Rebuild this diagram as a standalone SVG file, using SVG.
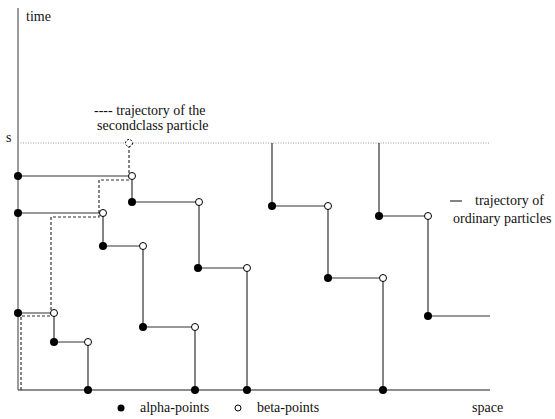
<svg xmlns="http://www.w3.org/2000/svg" width="555" height="419" viewBox="0 0 555 419">
<style>
.t{font-family:'Liberation Serif','Times New Roman','DejaVu Serif',serif;font-size:14px;fill:#111}
.ax{stroke:#666;stroke-width:1.3;fill:none}
.tr{stroke:#333;stroke-width:1.2;fill:none}
.sc{stroke:#333;stroke-width:1.2;fill:none;stroke-dasharray:3,2}
.dot{stroke:#999;stroke-width:1;stroke-dasharray:1,1.5;fill:none}
.a{fill:#000}
.b{fill:#fff;stroke:#000;stroke-width:1}
</style>
<g id="axes">
<line class="ax" x1="18" y1="8" x2="18" y2="390"/>
<line class="ax" x1="18" y1="390" x2="490" y2="390"/>
<line class="dot" x1="18" y1="143" x2="490" y2="143"/>
<text class="t" x="26" y="21">time</text>
<text class="t" x="6" y="142">s</text>
<text class="t" x="472" y="412">space</text>
</g>
<g id="connectors">
<path class="tr" d="M18,176 H132 V202 H199 V268 H247 V390"/>
<path class="tr" d="M18,213 H103 V246 H143 V327 H195 V390"/>
<path class="tr" d="M18,313 H54 V342 H88 V390"/>
<path class="tr" d="M272,143 V206 H328 V278 H383 V390"/>
<path class="tr" d="M379,143 V216 H428 V316 H490"/>
<path class="sc" d="M21,390 V316 H51 V217 H99 V180 H129 V146"/>
</g>
<g id="alpha-points">
<circle class="a" cx="18" cy="176" r="4"/>
<circle class="a" cx="18" cy="213" r="4"/>
<circle class="a" cx="18" cy="313" r="4"/>
<circle class="a" cx="132" cy="202" r="4"/>
<circle class="a" cx="103" cy="246" r="4"/>
<circle class="a" cx="143" cy="327" r="4"/>
<circle class="a" cx="54" cy="342" r="4"/>
<circle class="a" cx="88" cy="390" r="4"/>
<circle class="a" cx="195" cy="390" r="4"/>
<circle class="a" cx="247" cy="390" r="4"/>
<circle class="a" cx="383" cy="390" r="4"/>
<circle class="a" cx="198" cy="268" r="4"/>
<circle class="a" cx="272" cy="206" r="4"/>
<circle class="a" cx="328" cy="278" r="4"/>
<circle class="a" cx="379" cy="216" r="4"/>
<circle class="a" cx="428" cy="316" r="4"/>
</g>
<g id="beta-points">
<circle class="b" cx="132" cy="176" r="3.5"/>
<circle class="b" cx="103" cy="213" r="3.5"/>
<circle class="b" cx="54" cy="313" r="3.5"/>
<circle class="b" cx="143" cy="246" r="3.5"/>
<circle class="b" cx="88" cy="342" r="3.5"/>
<circle class="b" cx="195" cy="327" r="3.5"/>
<circle class="b" cx="199" cy="202" r="3.5"/>
<circle class="b" cx="247" cy="268" r="3.5"/>
<circle class="b" cx="328" cy="206" r="3.5"/>
<circle class="b" cx="383" cy="278" r="3.5"/>
<circle class="b" cx="428" cy="216" r="3.5"/>
</g>
<g id="secondclass-end">
<circle cx="129" cy="143" r="3.5" fill="#fff" stroke="#000" stroke-width="1" stroke-dasharray="2,1.5"/>
</g>
<g id="legend-secondclass">
<text class="t" x="94" y="115">---- trajectory of the</text>
<text class="t" x="97" y="130">secondclass particle</text>
</g>
<g id="legend-ordinary">
<line x1="450" y1="201" x2="462" y2="201" stroke="#333" stroke-width="1.2"/>
<text class="t" x="475" y="205">trajectory of</text>
<text class="t" x="453" y="223">ordinary particles</text>
</g>
<g id="legend-points">
<circle class="a" cx="121" cy="408" r="3.5"/>
<text class="t" x="140" y="412">alpha-points</text>
<circle class="b" cx="238" cy="408" r="3"/>
<text class="t" x="257" y="412">beta-points</text>
</g>
</svg>
